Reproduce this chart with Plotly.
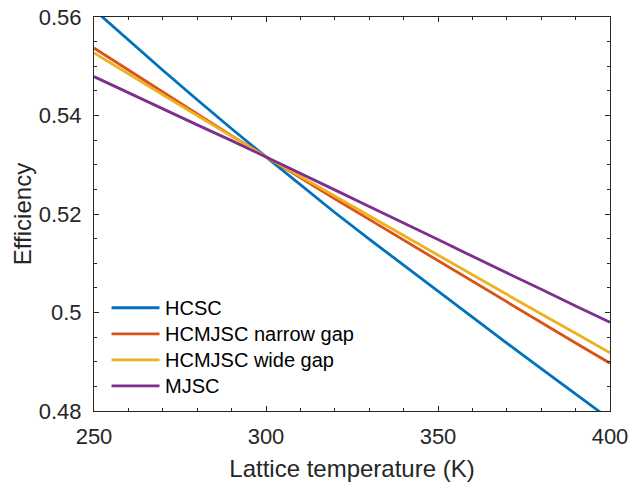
import plotly.graph_objects as go

# Lattice temperature (K)
temperature = [250, 260, 270, 280, 290, 300, 310, 320, 330, 340, 350, 360, 370, 380, 390, 400]

# Efficiency of each cell type
hcsc = [0.5615, 0.5553, 0.5492, 0.5432, 0.5373, 0.5316, 0.5260, 0.5203,
        0.5149, 0.5096, 0.5043, 0.4991, 0.4938, 0.4886, 0.4834, 0.4783]
hcmjsc_narrow = [0.5537, 0.5492, 0.5447, 0.5403, 0.5359, 0.5316, 0.5273, 0.5231,
                 0.5189, 0.5147, 0.5105, 0.5063, 0.5021, 0.4980, 0.4938, 0.4897]
hcmjsc_wide = [0.5527, 0.5484, 0.5442, 0.5400, 0.5358, 0.5316, 0.5276, 0.5236,
               0.5196, 0.5156, 0.5117, 0.5077, 0.5037, 0.4997, 0.4958, 0.4918]
mjsc = [0.5479, 0.5446, 0.5414, 0.5381, 0.5349, 0.5316, 0.5283, 0.5249,
        0.5215, 0.5182, 0.5148, 0.5114, 0.5081, 0.5047, 0.5013, 0.4980]

series_names = ["HCSC", "HCMJSC narrow gap", "HCMJSC wide gap", "MJSC"]
series_values = [hcsc, hcmjsc_narrow, hcmjsc_wide, mjsc]
colors = ["#0072BD", "#D95319", "#EDB120", "#7E2F8E"]

x_ticks = [250, 300, 350, 400]
y_ticks = [0.48, 0.5, 0.52, 0.54, 0.56]
y_tick_labels = ["0.48", "0.5", "0.52", "0.54", "0.56"]

FONT = "Liberation Sans, Arial, sans-serif"
AXIS_COLOR = "#262626"
LINE_W = 2.8

fig = go.Figure()
for name, vals, col in zip(series_names, series_values, colors):
    fig.add_trace(go.Scatter(
        x=temperature, y=vals, mode="lines", name=name,
        line=dict(color=col, width=LINE_W),
    ))

# Box-less legend in the lower-left corner of the axes (paper coordinates)
leg_x0, leg_x1, leg_text_x = 0.034, 0.127, 0.134
leg_top, leg_step = 0.262, 0.066
for i, (name, col) in enumerate(zip(series_names, colors)):
    yy = leg_top - i * leg_step
    fig.add_shape(type="line", xref="paper", yref="paper",
                  x0=leg_x0, x1=leg_x1, y0=yy, y1=yy,
                  line=dict(color=col, width=LINE_W))
    fig.add_annotation(xref="paper", yref="paper", x=leg_text_x, y=yy,
                       text=name, showarrow=False, xanchor="left", yanchor="middle",
                       font=dict(family=FONT, size=20, color="black"))

axis_common = dict(
    showline=True, linecolor=AXIS_COLOR, linewidth=1, mirror="allticks",
    ticks="inside", ticklen=5, tickwidth=1, tickcolor=AXIS_COLOR,
    showgrid=False, zeroline=False, automargin=False,
    tickfont=dict(family=FONT, size=22, color=AXIS_COLOR),
)

fig.update_xaxes(
    range=[250, 400], tickvals=x_ticks,
    minor=dict(ticks="inside", ticklen=3, tickcolor=AXIS_COLOR, dtick=10, showgrid=False),
    title=dict(text="Lattice temperature (K)", font=dict(family=FONT, size=24, color=AXIS_COLOR), standoff=11),
    ticklabelstandoff=6,
    **axis_common,
)
fig.update_yaxes(
    range=[0.48, 0.56], tickvals=y_ticks, ticktext=y_tick_labels,
    minor=dict(ticks="inside", ticklen=3, tickcolor=AXIS_COLOR, dtick=0.005, showgrid=False),
    title=dict(text="Efficiency", font=dict(family=FONT, size=24, color=AXIS_COLOR), standoff=0),
    ticklabelstandoff=7,
    **axis_common,
)

fig.update_layout(
    width=629, height=482,
    margin=dict(l=94, r=19, t=17, b=71),
    paper_bgcolor="white", plot_bgcolor="white",
    showlegend=False,
)

fig.write_html("out.html")
